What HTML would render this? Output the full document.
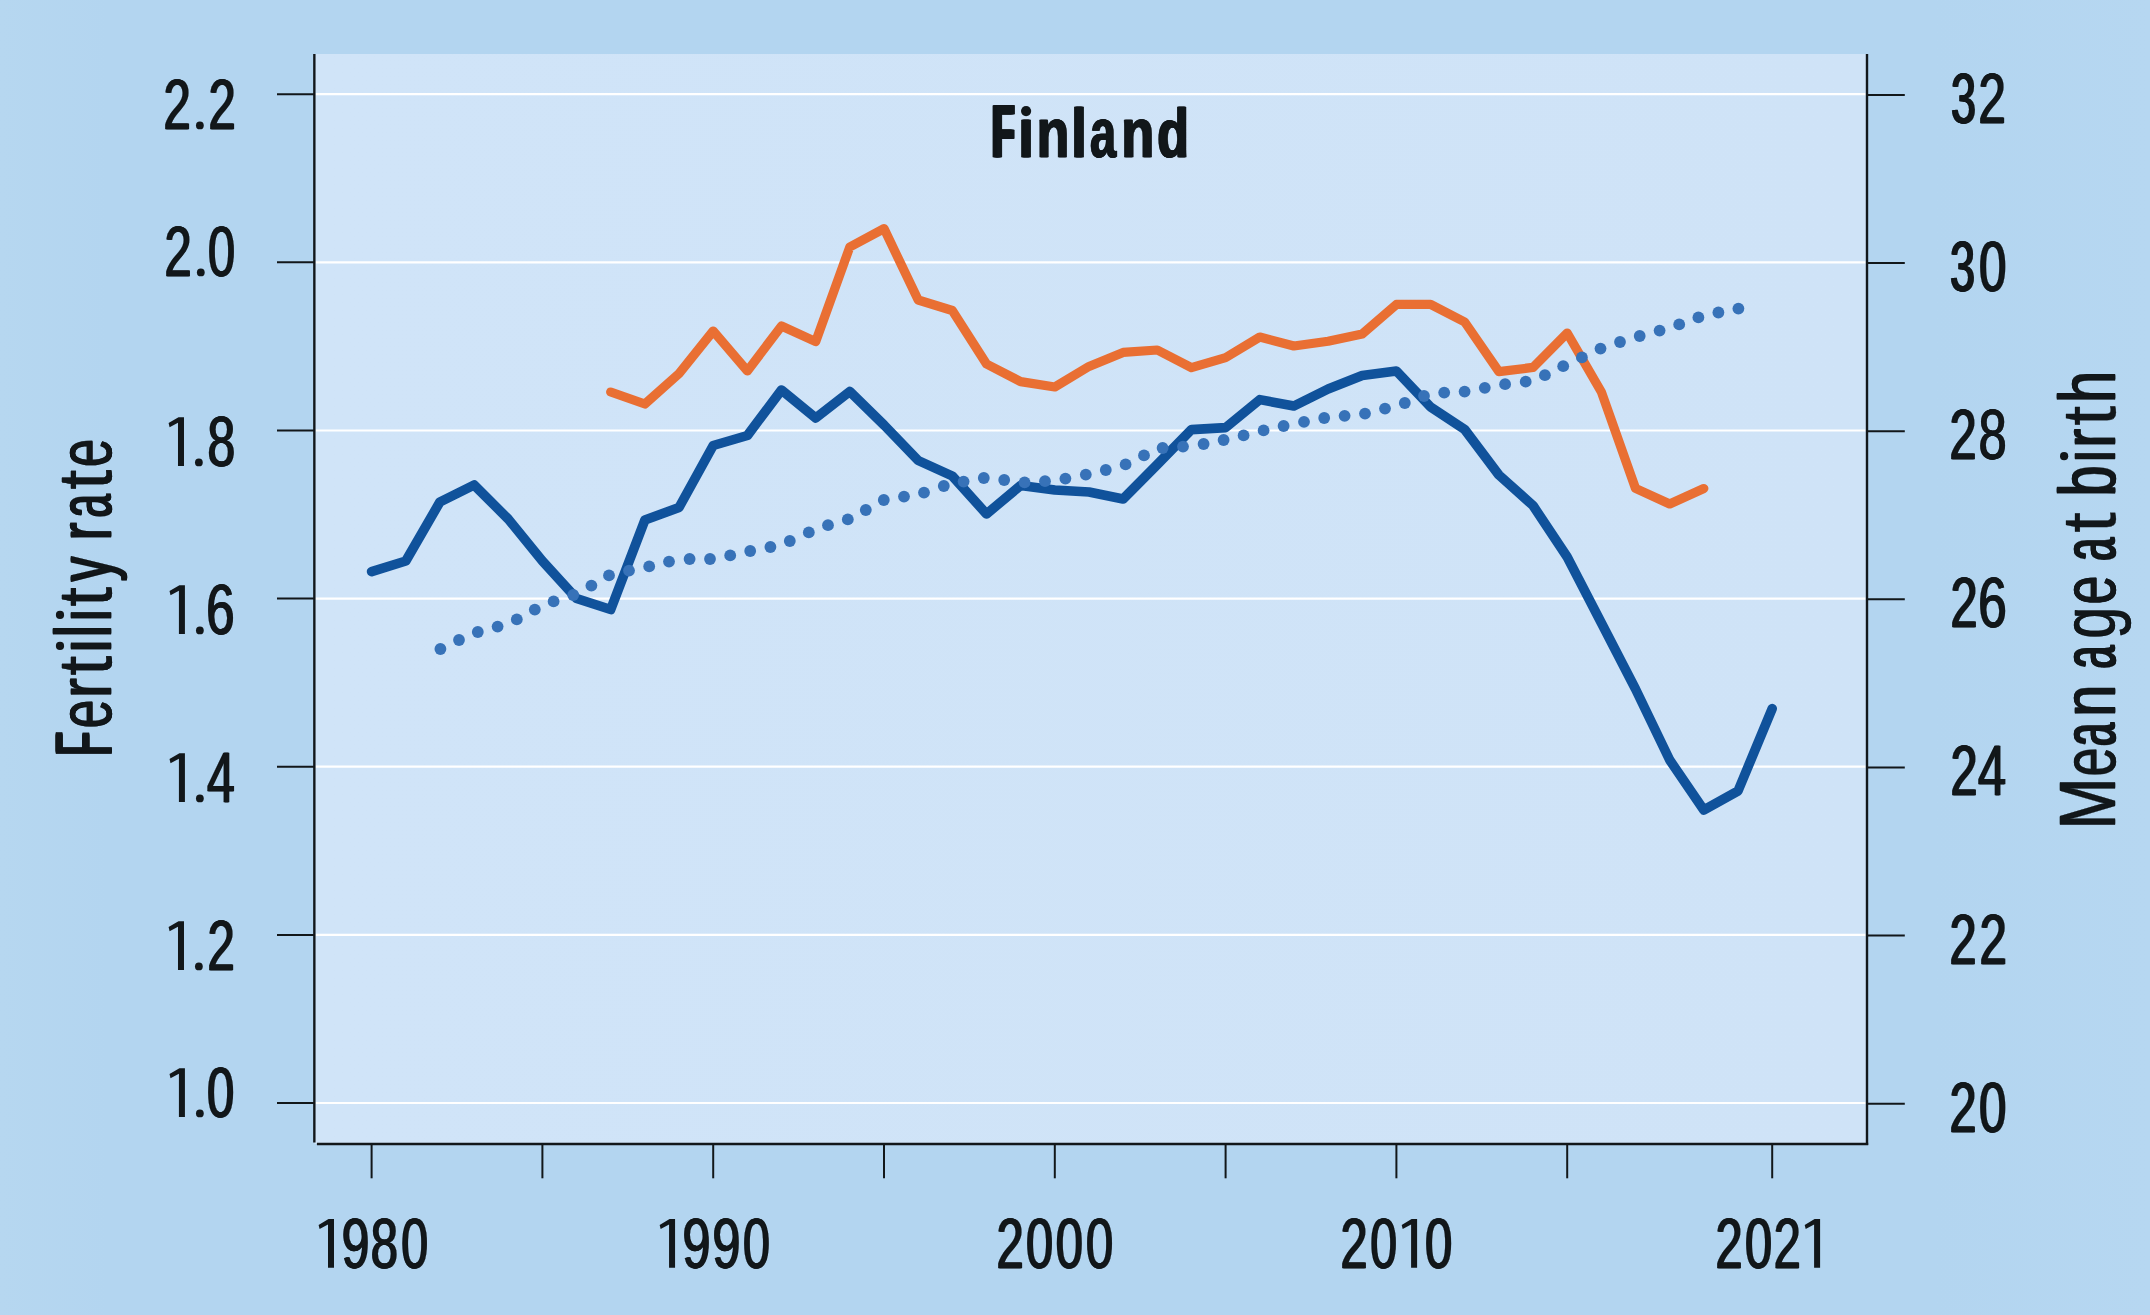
<!DOCTYPE html>
<html><head><meta charset="utf-8"><title>Finland</title>
<style>html,body{margin:0;padding:0;background:#b3d5f0;}svg{display:block}text{font-family:'Liberation Sans',sans-serif;fill:#12171a;stroke:#12171a;stroke-linejoin:round}</style>
</head><body>
<svg width="2150" height="1315" viewBox="0 0 2150 1315">
<defs>
<linearGradient id="bg" x1="0" y1="0" x2="1" y2="0">
<stop offset="0" stop-color="#b6d7f0"/><stop offset="0.05" stop-color="#b3d5f0"/><stop offset="0.9" stop-color="#b3d5f0"/><stop offset="1" stop-color="#b6d7f1"/>
</linearGradient>
<linearGradient id="pl" x1="0" y1="0" x2="1" y2="0">
<stop offset="0" stop-color="#d0e4f8"/><stop offset="1" stop-color="#cfe3f7"/>
</linearGradient>
</defs>
<rect x="0" y="0" width="2150" height="1315" fill="url(#bg)"/>
<rect x="314.5" y="54.0" width="1552.5" height="1090.0" fill="url(#pl)"/>

<g stroke="#ffffff" stroke-width="2.2" fill="none">
<line x1="315.5" y1="94.2" x2="1865.6" y2="94.2"/>
<line x1="315.5" y1="262.3" x2="1865.6" y2="262.3"/>
<line x1="315.5" y1="430.5" x2="1865.6" y2="430.5"/>
<line x1="315.5" y1="598.6" x2="1865.6" y2="598.6"/>
<line x1="315.5" y1="766.7" x2="1865.6" y2="766.7"/>
<line x1="315.5" y1="934.9" x2="1865.6" y2="934.9"/>
<line x1="315.5" y1="1103.0" x2="1865.6" y2="1103.0"/>
</g>
<g stroke="#12171a" stroke-width="2.0" fill="none">
<line x1="314.35" y1="54.0" x2="314.35" y2="1142.6" stroke-width="2.4"/>
<line x1="1867.0" y1="54.0" x2="1867.0" y2="1145.1" stroke-width="2.4"/>
<line x1="316.9" y1="1144.0" x2="1868.2" y2="1144.0" stroke-width="2.3"/>
<line x1="277" y1="94.2" x2="314.5" y2="94.2"/>
<line x1="1867.0" y1="94.9" x2="1904.8" y2="94.9"/>
<line x1="277" y1="262.3" x2="314.5" y2="262.3"/>
<line x1="1867.0" y1="263.0" x2="1904.8" y2="263.0"/>
<line x1="277" y1="430.5" x2="314.5" y2="430.5"/>
<line x1="1867.0" y1="431.2" x2="1904.8" y2="431.2"/>
<line x1="277" y1="598.6" x2="314.5" y2="598.6"/>
<line x1="1867.0" y1="599.3" x2="1904.8" y2="599.3"/>
<line x1="277" y1="766.7" x2="314.5" y2="766.7"/>
<line x1="1867.0" y1="767.4" x2="1904.8" y2="767.4"/>
<line x1="277" y1="934.9" x2="314.5" y2="934.9"/>
<line x1="1867.0" y1="935.6" x2="1904.8" y2="935.6"/>
<line x1="277" y1="1103.0" x2="314.5" y2="1103.0"/>
<line x1="1867.0" y1="1103.7" x2="1904.8" y2="1103.7"/>
<line x1="371.6" y1="1144.0" x2="371.6" y2="1178.3"/>
<line x1="542.4" y1="1144.0" x2="542.4" y2="1178.3"/>
<line x1="713.2" y1="1144.0" x2="713.2" y2="1178.3"/>
<line x1="884.0" y1="1144.0" x2="884.0" y2="1178.3"/>
<line x1="1054.8" y1="1144.0" x2="1054.8" y2="1178.3"/>
<line x1="1225.6" y1="1144.0" x2="1225.6" y2="1178.3"/>
<line x1="1396.4" y1="1144.0" x2="1396.4" y2="1178.3"/>
<line x1="1567.2" y1="1144.0" x2="1567.2" y2="1178.3"/>
<line x1="1772.2" y1="1144.0" x2="1772.2" y2="1178.3"/>
</g>
<polyline points="610.7,392.0 644.9,404.0 679.0,373.6 713.2,331.0 747.4,371.0 781.5,326.0 815.7,341.6 849.8,247.0 884.0,228.6 918.2,300.0 952.3,310.5 986.5,364.0 1020.6,381.6 1054.8,387.0 1089.0,366.4 1123.1,352.4 1157.3,350.0 1191.4,367.6 1225.6,357.6 1259.8,337.0 1293.9,346.0 1328.1,341.3 1362.2,334.0 1396.4,304.4 1430.6,304.4 1464.7,322.0 1498.9,371.6 1533.0,367.4 1567.2,333.0 1601.4,392.0 1635.5,488.4 1669.7,504.0 1703.8,488.5" fill="none" stroke="#e96f33" stroke-width="9.2" stroke-linecap="round" stroke-linejoin="round"/>
<polyline points="371.6,571.6 405.8,561.0 439.9,502.0 474.1,485.0 508.2,519.0 542.4,561.0 576.6,598.5 610.7,609.5 644.9,520.0 679.0,507.5 713.2,445.5 747.4,435.5 781.5,390.0 815.7,418.0 849.8,391.5 884.0,425.0 918.2,460.5 952.3,476.0 986.5,514.0 1020.6,485.5 1054.8,490.0 1089.0,492.0 1123.1,499.0 1157.3,464.5 1191.4,429.6 1225.6,427.6 1259.8,399.6 1293.9,406.0 1328.1,389.0 1362.2,375.5 1396.4,371.0 1430.6,407.0 1464.7,429.5 1498.9,475.0 1533.0,505.5 1567.2,557.0 1601.4,623.0 1635.5,689.0 1669.7,760.0 1703.8,810.0 1738.0,791.0 1772.2,708.6" fill="none" stroke="#10529b" stroke-width="9.6" stroke-linecap="round" stroke-linejoin="round"/>
<g fill="#3772b8">
<circle cx="440.4" cy="649" r="5.9"/>
<circle cx="459" cy="640" r="5.9"/>
<circle cx="477.8" cy="632" r="5.9"/>
<circle cx="497.6" cy="626.6" r="5.9"/>
<circle cx="516.8" cy="619.4" r="5.9"/>
<circle cx="534.8" cy="609.6" r="5.9"/>
<circle cx="553.6" cy="601.4" r="5.9"/>
<circle cx="573.2" cy="595" r="5.9"/>
<circle cx="591.4" cy="585.6" r="5.9"/>
<circle cx="609" cy="575.4" r="5.9"/>
<circle cx="629" cy="570.6" r="5.9"/>
<circle cx="649.2" cy="566.4" r="5.9"/>
<circle cx="669" cy="561.6" r="5.9"/>
<circle cx="689.6" cy="559" r="5.9"/>
<circle cx="710" cy="559" r="5.9"/>
<circle cx="730.2" cy="555.4" r="5.9"/>
<circle cx="750.2" cy="551" r="5.9"/>
<circle cx="770.4" cy="547" r="5.9"/>
<circle cx="789.8" cy="541" r="5.9"/>
<circle cx="808.8" cy="532.4" r="5.9"/>
<circle cx="828" cy="525.2" r="5.9"/>
<circle cx="847.8" cy="519.4" r="5.9"/>
<circle cx="865.8" cy="510" r="5.9"/>
<circle cx="883.8" cy="500" r="5.9"/>
<circle cx="904" cy="496.6" r="5.9"/>
<circle cx="924" cy="492.6" r="5.9"/>
<circle cx="943.8" cy="486" r="5.9"/>
<circle cx="963.6" cy="481.6" r="5.9"/>
<circle cx="983.8" cy="478" r="5.9"/>
<circle cx="1004.2" cy="480" r="5.9"/>
<circle cx="1024.6" cy="482.4" r="5.9"/>
<circle cx="1045" cy="481.2" r="5.9"/>
<circle cx="1065.4" cy="478.6" r="5.9"/>
<circle cx="1085.8" cy="474.6" r="5.9"/>
<circle cx="1105.8" cy="470" r="5.9"/>
<circle cx="1125.6" cy="464.4" r="5.9"/>
<circle cx="1144" cy="455.4" r="5.9"/>
<circle cx="1162.6" cy="448" r="5.9"/>
<circle cx="1183" cy="446.6" r="5.9"/>
<circle cx="1203.6" cy="444" r="5.9"/>
<circle cx="1223.6" cy="440" r="5.9"/>
<circle cx="1243.6" cy="435.4" r="5.9"/>
<circle cx="1263.6" cy="430.4" r="5.9"/>
<circle cx="1283.6" cy="426" r="5.9"/>
<circle cx="1304" cy="421.8" r="5.9"/>
<circle cx="1324.2" cy="418" r="5.9"/>
<circle cx="1344.6" cy="415.8" r="5.9"/>
<circle cx="1365" cy="413.6" r="5.9"/>
<circle cx="1385" cy="408.6" r="5.9"/>
<circle cx="1404.8" cy="403" r="5.9"/>
<circle cx="1424" cy="396" r="5.9"/>
<circle cx="1444.2" cy="392.6" r="5.9"/>
<circle cx="1464.6" cy="391.6" r="5.9"/>
<circle cx="1484.8" cy="387.8" r="5.9"/>
<circle cx="1505.1" cy="384.2" r="5.9"/>
<circle cx="1525.7" cy="381.7" r="5.9"/>
<circle cx="1544.9" cy="375.2" r="5.9"/>
<circle cx="1563.2" cy="366.2" r="5.9"/>
<circle cx="1581.9" cy="357.4" r="5.9"/>
<circle cx="1600.5" cy="348.6" r="5.9"/>
<circle cx="1620" cy="342" r="5.9"/>
<circle cx="1639.7" cy="336" r="5.9"/>
<circle cx="1659.6" cy="330.6" r="5.9"/>
<circle cx="1679.2" cy="324.4" r="5.9"/>
<circle cx="1698.4" cy="317.4" r="5.9"/>
<circle cx="1718.4" cy="312.5" r="5.9"/>
<circle cx="1738.4" cy="308.6" r="5.9"/>
</g>
<text transform="translate(162.76,128.9) scale(0.6991,1.0)" font-size="70.0" font-weight="normal" stroke-width="0.30">2</text>
<text transform="translate(163.44,128.9) scale(0.6991,1.0)" font-size="70.0" font-weight="normal" stroke-width="0.30">2</text>
<text transform="translate(164.13,128.9) scale(0.6991,1.0)" font-size="70.0" font-weight="normal" stroke-width="0.30">2</text>
<text transform="translate(207.76,128.9) scale(0.6991,1.0)" font-size="70.0" font-weight="normal" stroke-width="0.30">2</text>
<text transform="translate(208.44,128.9) scale(0.6991,1.0)" font-size="70.0" font-weight="normal" stroke-width="0.30">2</text>
<text transform="translate(209.13,128.9) scale(0.6991,1.0)" font-size="70.0" font-weight="normal" stroke-width="0.30">2</text>
<text transform="translate(163.75,275.9) scale(0.7029,1.0)" font-size="70.0" font-weight="normal" stroke-width="0.30">2</text>
<text transform="translate(164.42,275.9) scale(0.7029,1.0)" font-size="70.0" font-weight="normal" stroke-width="0.30">2</text>
<text transform="translate(165.09,275.9) scale(0.7029,1.0)" font-size="70.0" font-weight="normal" stroke-width="0.30">2</text>
<text transform="translate(207.21,275.9) scale(0.6992,1.0)" font-size="70.0" font-weight="normal" stroke-width="0.30">0</text>
<text transform="translate(207.89,275.9) scale(0.6992,1.0)" font-size="70.0" font-weight="normal" stroke-width="0.30">0</text>
<text transform="translate(208.58,275.9) scale(0.6992,1.0)" font-size="70.0" font-weight="normal" stroke-width="0.30">0</text>
<text transform="translate(206.80,465.9) scale(0.7177,1.0)" font-size="70.0" font-weight="normal" stroke-width="0.30">8</text>
<text transform="translate(207.43,465.9) scale(0.7177,1.0)" font-size="70.0" font-weight="normal" stroke-width="0.30">8</text>
<text transform="translate(208.06,465.9) scale(0.7177,1.0)" font-size="70.0" font-weight="normal" stroke-width="0.30">8</text>
<text transform="translate(205.61,633.9) scale(0.7319,1.0)" font-size="70.0" font-weight="normal" stroke-width="0.29">6</text>
<text transform="translate(206.19,633.9) scale(0.7319,1.0)" font-size="70.0" font-weight="normal" stroke-width="0.29">6</text>
<text transform="translate(206.77,633.9) scale(0.7319,1.0)" font-size="70.0" font-weight="normal" stroke-width="0.29">6</text>
<text transform="translate(206.37,801.9) scale(0.7179,1.0)" font-size="70.0" font-weight="normal" stroke-width="0.30">4</text>
<text transform="translate(206.99,801.9) scale(0.7179,1.0)" font-size="70.0" font-weight="normal" stroke-width="0.30">4</text>
<text transform="translate(207.62,801.9) scale(0.7179,1.0)" font-size="70.0" font-weight="normal" stroke-width="0.30">4</text>
<text transform="translate(206.63,969.9) scale(0.7068,1.0)" font-size="70.0" font-weight="normal" stroke-width="0.30">2</text>
<text transform="translate(207.29,969.9) scale(0.7068,1.0)" font-size="70.0" font-weight="normal" stroke-width="0.30">2</text>
<text transform="translate(207.95,969.9) scale(0.7068,1.0)" font-size="70.0" font-weight="normal" stroke-width="0.30">2</text>
<text transform="translate(206.31,1116.9) scale(0.6992,1.0)" font-size="70.0" font-weight="normal" stroke-width="0.30">0</text>
<text transform="translate(206.99,1116.9) scale(0.6992,1.0)" font-size="70.0" font-weight="normal" stroke-width="0.30">0</text>
<text transform="translate(207.68,1116.9) scale(0.6992,1.0)" font-size="70.0" font-weight="normal" stroke-width="0.30">0</text>
<text transform="translate(340.90,1267.8) scale(0.7136,1.0)" font-size="70.4" font-weight="normal" stroke-width="0.30">9</text>
<text transform="translate(341.52,1267.8) scale(0.7136,1.0)" font-size="70.4" font-weight="normal" stroke-width="0.30">9</text>
<text transform="translate(342.15,1267.8) scale(0.7136,1.0)" font-size="70.4" font-weight="normal" stroke-width="0.30">9</text>
<text transform="translate(369.94,1267.8) scale(0.7019,1.0)" font-size="70.4" font-weight="normal" stroke-width="0.30">8</text>
<text transform="translate(370.60,1267.8) scale(0.7019,1.0)" font-size="70.4" font-weight="normal" stroke-width="0.30">8</text>
<text transform="translate(371.27,1267.8) scale(0.7019,1.0)" font-size="70.4" font-weight="normal" stroke-width="0.30">8</text>
<text transform="translate(400.42,1267.8) scale(0.6922,1.0)" font-size="70.4" font-weight="normal" stroke-width="0.30">0</text>
<text transform="translate(401.11,1267.8) scale(0.6922,1.0)" font-size="70.4" font-weight="normal" stroke-width="0.30">0</text>
<text transform="translate(401.80,1267.8) scale(0.6922,1.0)" font-size="70.4" font-weight="normal" stroke-width="0.30">0</text>
<text transform="translate(681.83,1267.8) scale(0.7193,1.0)" font-size="70.4" font-weight="normal" stroke-width="0.29">9</text>
<text transform="translate(682.44,1267.8) scale(0.7193,1.0)" font-size="70.4" font-weight="normal" stroke-width="0.29">9</text>
<text transform="translate(683.04,1267.8) scale(0.7193,1.0)" font-size="70.4" font-weight="normal" stroke-width="0.29">9</text>
<text transform="translate(711.73,1267.8) scale(0.7193,1.0)" font-size="70.4" font-weight="normal" stroke-width="0.29">9</text>
<text transform="translate(712.34,1267.8) scale(0.7193,1.0)" font-size="70.4" font-weight="normal" stroke-width="0.29">9</text>
<text transform="translate(712.94,1267.8) scale(0.7193,1.0)" font-size="70.4" font-weight="normal" stroke-width="0.29">9</text>
<text transform="translate(742.22,1267.8) scale(0.6922,1.0)" font-size="70.4" font-weight="normal" stroke-width="0.30">0</text>
<text transform="translate(742.91,1267.8) scale(0.6922,1.0)" font-size="70.4" font-weight="normal" stroke-width="0.30">0</text>
<text transform="translate(743.60,1267.8) scale(0.6922,1.0)" font-size="70.4" font-weight="normal" stroke-width="0.30">0</text>
<text transform="translate(995.85,1267.8) scale(0.6956,1.0)" font-size="70.4" font-weight="normal" stroke-width="0.30">2</text>
<text transform="translate(996.53,1267.8) scale(0.6956,1.0)" font-size="70.4" font-weight="normal" stroke-width="0.30">2</text>
<text transform="translate(997.22,1267.8) scale(0.6956,1.0)" font-size="70.4" font-weight="normal" stroke-width="0.30">2</text>
<text transform="translate(1025.32,1267.8) scale(0.6922,1.0)" font-size="70.4" font-weight="normal" stroke-width="0.30">0</text>
<text transform="translate(1026.01,1267.8) scale(0.6922,1.0)" font-size="70.4" font-weight="normal" stroke-width="0.30">0</text>
<text transform="translate(1026.70,1267.8) scale(0.6922,1.0)" font-size="70.4" font-weight="normal" stroke-width="0.30">0</text>
<text transform="translate(1055.11,1267.8) scale(0.6941,1.0)" font-size="70.4" font-weight="normal" stroke-width="0.30">0</text>
<text transform="translate(1055.80,1267.8) scale(0.6941,1.0)" font-size="70.4" font-weight="normal" stroke-width="0.30">0</text>
<text transform="translate(1056.48,1267.8) scale(0.6941,1.0)" font-size="70.4" font-weight="normal" stroke-width="0.30">0</text>
<text transform="translate(1085.20,1267.8) scale(0.6995,1.0)" font-size="70.4" font-weight="normal" stroke-width="0.30">0</text>
<text transform="translate(1085.87,1267.8) scale(0.6995,1.0)" font-size="70.4" font-weight="normal" stroke-width="0.30">0</text>
<text transform="translate(1086.53,1267.8) scale(0.6995,1.0)" font-size="70.4" font-weight="normal" stroke-width="0.30">0</text>
<text transform="translate(1339.87,1267.8) scale(0.6917,1.0)" font-size="70.4" font-weight="normal" stroke-width="0.30">2</text>
<text transform="translate(1340.56,1267.8) scale(0.6917,1.0)" font-size="70.4" font-weight="normal" stroke-width="0.30">2</text>
<text transform="translate(1341.25,1267.8) scale(0.6917,1.0)" font-size="70.4" font-weight="normal" stroke-width="0.30">2</text>
<text transform="translate(1369.43,1267.8) scale(0.6886,1.0)" font-size="70.4" font-weight="normal" stroke-width="0.30">0</text>
<text transform="translate(1370.13,1267.8) scale(0.6886,1.0)" font-size="70.4" font-weight="normal" stroke-width="0.30">0</text>
<text transform="translate(1370.83,1267.8) scale(0.6886,1.0)" font-size="70.4" font-weight="normal" stroke-width="0.30">0</text>
<text transform="translate(1424.31,1267.8) scale(0.6959,1.0)" font-size="70.4" font-weight="normal" stroke-width="0.30">0</text>
<text transform="translate(1424.99,1267.8) scale(0.6959,1.0)" font-size="70.4" font-weight="normal" stroke-width="0.30">0</text>
<text transform="translate(1425.67,1267.8) scale(0.6959,1.0)" font-size="70.4" font-weight="normal" stroke-width="0.30">0</text>
<text transform="translate(1714.87,1267.8) scale(0.6917,1.0)" font-size="70.4" font-weight="normal" stroke-width="0.30">2</text>
<text transform="translate(1715.56,1267.8) scale(0.6917,1.0)" font-size="70.4" font-weight="normal" stroke-width="0.30">2</text>
<text transform="translate(1716.25,1267.8) scale(0.6917,1.0)" font-size="70.4" font-weight="normal" stroke-width="0.30">2</text>
<text transform="translate(1744.32,1267.8) scale(0.6922,1.0)" font-size="70.4" font-weight="normal" stroke-width="0.30">0</text>
<text transform="translate(1745.01,1267.8) scale(0.6922,1.0)" font-size="70.4" font-weight="normal" stroke-width="0.30">0</text>
<text transform="translate(1745.70,1267.8) scale(0.6922,1.0)" font-size="70.4" font-weight="normal" stroke-width="0.30">0</text>
<text transform="translate(1772.95,1267.8) scale(0.6956,1.0)" font-size="70.4" font-weight="normal" stroke-width="0.30">2</text>
<text transform="translate(1773.63,1267.8) scale(0.6956,1.0)" font-size="70.4" font-weight="normal" stroke-width="0.30">2</text>
<text transform="translate(1774.32,1267.8) scale(0.6956,1.0)" font-size="70.4" font-weight="normal" stroke-width="0.30">2</text>
<text transform="translate(1950.20,122.9) scale(0.6377,1.0)" font-size="70.0" font-weight="normal" stroke-width="0.31">3</text>
<text transform="translate(1950.78,122.9) scale(0.6377,1.0)" font-size="70.0" font-weight="normal" stroke-width="0.31">3</text>
<text transform="translate(1951.36,122.9) scale(0.6377,1.0)" font-size="70.0" font-weight="normal" stroke-width="0.31">3</text>
<text transform="translate(1951.95,122.9) scale(0.6377,1.0)" font-size="70.0" font-weight="normal" stroke-width="0.31">3</text>
<text transform="translate(1977.63,122.9) scale(0.7068,1.0)" font-size="70.0" font-weight="normal" stroke-width="0.30">2</text>
<text transform="translate(1978.29,122.9) scale(0.7068,1.0)" font-size="70.0" font-weight="normal" stroke-width="0.30">2</text>
<text transform="translate(1978.95,122.9) scale(0.7068,1.0)" font-size="70.0" font-weight="normal" stroke-width="0.30">2</text>
<text transform="translate(1949.25,291.0) scale(0.6377,1.0)" font-size="70.0" font-weight="normal" stroke-width="0.31">3</text>
<text transform="translate(1949.83,291.0) scale(0.6377,1.0)" font-size="70.0" font-weight="normal" stroke-width="0.31">3</text>
<text transform="translate(1950.41,291.0) scale(0.6377,1.0)" font-size="70.0" font-weight="normal" stroke-width="0.31">3</text>
<text transform="translate(1951.00,291.0) scale(0.6377,1.0)" font-size="70.0" font-weight="normal" stroke-width="0.31">3</text>
<text transform="translate(1978.30,291.0) scale(0.7028,1.0)" font-size="70.0" font-weight="normal" stroke-width="0.30">0</text>
<text transform="translate(1978.97,291.0) scale(0.7028,1.0)" font-size="70.0" font-weight="normal" stroke-width="0.30">0</text>
<text transform="translate(1979.64,291.0) scale(0.7028,1.0)" font-size="70.0" font-weight="normal" stroke-width="0.30">0</text>
<text transform="translate(1948.77,458.9) scale(0.6952,1.0)" font-size="70.0" font-weight="normal" stroke-width="0.30">2</text>
<text transform="translate(1949.47,458.9) scale(0.6952,1.0)" font-size="70.0" font-weight="normal" stroke-width="0.30">2</text>
<text transform="translate(1950.17,458.9) scale(0.6952,1.0)" font-size="70.0" font-weight="normal" stroke-width="0.30">2</text>
<text transform="translate(1977.88,458.9) scale(0.7252,1.0)" font-size="70.0" font-weight="normal" stroke-width="0.29">8</text>
<text transform="translate(1978.48,458.9) scale(0.7252,1.0)" font-size="70.0" font-weight="normal" stroke-width="0.29">8</text>
<text transform="translate(1979.09,458.9) scale(0.7252,1.0)" font-size="70.0" font-weight="normal" stroke-width="0.29">8</text>
<text transform="translate(1949.87,626.9) scale(0.6952,1.0)" font-size="70.0" font-weight="normal" stroke-width="0.30">2</text>
<text transform="translate(1950.57,626.9) scale(0.6952,1.0)" font-size="70.0" font-weight="normal" stroke-width="0.30">2</text>
<text transform="translate(1951.27,626.9) scale(0.6952,1.0)" font-size="70.0" font-weight="normal" stroke-width="0.30">2</text>
<text transform="translate(1977.59,626.9) scale(0.7357,1.0)" font-size="70.0" font-weight="normal" stroke-width="0.29">6</text>
<text transform="translate(1978.17,626.9) scale(0.7357,1.0)" font-size="70.0" font-weight="normal" stroke-width="0.29">6</text>
<text transform="translate(1978.74,626.9) scale(0.7357,1.0)" font-size="70.0" font-weight="normal" stroke-width="0.29">6</text>
<text transform="translate(1949.87,794.9) scale(0.6952,1.0)" font-size="70.0" font-weight="normal" stroke-width="0.30">2</text>
<text transform="translate(1950.57,794.9) scale(0.6952,1.0)" font-size="70.0" font-weight="normal" stroke-width="0.30">2</text>
<text transform="translate(1951.27,794.9) scale(0.6952,1.0)" font-size="70.0" font-weight="normal" stroke-width="0.30">2</text>
<text transform="translate(1977.25,794.9) scale(0.7247,1.0)" font-size="70.0" font-weight="normal" stroke-width="0.29">4</text>
<text transform="translate(1977.86,794.9) scale(0.7247,1.0)" font-size="70.0" font-weight="normal" stroke-width="0.29">4</text>
<text transform="translate(1978.46,794.9) scale(0.7247,1.0)" font-size="70.0" font-weight="normal" stroke-width="0.29">4</text>
<text transform="translate(1948.77,963.9) scale(0.6952,1.0)" font-size="70.0" font-weight="normal" stroke-width="0.30">2</text>
<text transform="translate(1949.47,963.9) scale(0.6952,1.0)" font-size="70.0" font-weight="normal" stroke-width="0.30">2</text>
<text transform="translate(1950.17,963.9) scale(0.6952,1.0)" font-size="70.0" font-weight="normal" stroke-width="0.30">2</text>
<text transform="translate(1978.85,963.9) scale(0.7029,1.0)" font-size="70.0" font-weight="normal" stroke-width="0.30">2</text>
<text transform="translate(1979.52,963.9) scale(0.7029,1.0)" font-size="70.0" font-weight="normal" stroke-width="0.30">2</text>
<text transform="translate(1980.19,963.9) scale(0.7029,1.0)" font-size="70.0" font-weight="normal" stroke-width="0.30">2</text>
<text transform="translate(1948.77,1131.9) scale(0.6952,1.0)" font-size="70.0" font-weight="normal" stroke-width="0.30">2</text>
<text transform="translate(1949.47,1131.9) scale(0.6952,1.0)" font-size="70.0" font-weight="normal" stroke-width="0.30">2</text>
<text transform="translate(1950.17,1131.9) scale(0.6952,1.0)" font-size="70.0" font-weight="normal" stroke-width="0.30">2</text>
<text transform="translate(1978.30,1131.9) scale(0.7028,1.0)" font-size="70.0" font-weight="normal" stroke-width="0.30">0</text>
<text transform="translate(1978.97,1131.9) scale(0.7028,1.0)" font-size="70.0" font-weight="normal" stroke-width="0.30">0</text>
<text transform="translate(1979.64,1131.9) scale(0.7028,1.0)" font-size="70.0" font-weight="normal" stroke-width="0.30">0</text>
<text transform="translate(990.54,156.8) scale(0.5034,1.05)" font-size="70.0" font-weight="bold" stroke-width="0.70">F</text>
<text transform="translate(991.11,156.8) scale(0.5034,1.05)" font-size="70.0" font-weight="bold" stroke-width="0.70">F</text>
<text transform="translate(991.67,156.8) scale(0.5034,1.05)" font-size="70.0" font-weight="bold" stroke-width="0.70">F</text>
<text transform="translate(992.24,156.8) scale(0.5034,1.05)" font-size="70.0" font-weight="bold" stroke-width="0.70">F</text>
<text transform="translate(992.81,156.8) scale(0.5034,1.05)" font-size="70.0" font-weight="bold" stroke-width="0.70">F</text>
<text transform="translate(993.38,156.8) scale(0.5034,1.05)" font-size="70.0" font-weight="bold" stroke-width="0.70">F</text>
<text transform="translate(993.94,156.8) scale(0.5034,1.05)" font-size="70.0" font-weight="bold" stroke-width="0.70">F</text>
<text transform="translate(994.51,156.8) scale(0.5034,1.05)" font-size="70.0" font-weight="bold" stroke-width="0.70">F</text>
<text transform="translate(1017.78,156.8) scale(0.7200,1.0)" font-size="70.0" font-weight="bold" stroke-width="0.59">&#305;</text>
<text transform="translate(1018.43,156.8) scale(0.7200,1.0)" font-size="70.0" font-weight="bold" stroke-width="0.59">&#305;</text>
<text transform="translate(1019.08,156.8) scale(0.7200,1.0)" font-size="70.0" font-weight="bold" stroke-width="0.59">&#305;</text>
<text transform="translate(1019.73,156.8) scale(0.7200,1.0)" font-size="70.0" font-weight="bold" stroke-width="0.59">&#305;</text>
<text transform="translate(1020.37,156.8) scale(0.7200,1.0)" font-size="70.0" font-weight="bold" stroke-width="0.59">&#305;</text>
<text transform="translate(1035.90,156.8) scale(0.7651,1.0)" font-size="70.0" font-weight="bold" stroke-width="0.57">n</text>
<text transform="translate(1036.63,156.8) scale(0.7651,1.0)" font-size="70.0" font-weight="bold" stroke-width="0.57">n</text>
<text transform="translate(1037.36,156.8) scale(0.7651,1.0)" font-size="70.0" font-weight="bold" stroke-width="0.57">n</text>
<text transform="translate(1070.73,156.8) scale(0.7200,0.99)" font-size="70.0" font-weight="bold" stroke-width="0.59">l</text>
<text transform="translate(1071.37,156.8) scale(0.7200,0.99)" font-size="70.0" font-weight="bold" stroke-width="0.59">l</text>
<text transform="translate(1072.02,156.8) scale(0.7200,0.99)" font-size="70.0" font-weight="bold" stroke-width="0.59">l</text>
<text transform="translate(1072.67,156.8) scale(0.7200,0.99)" font-size="70.0" font-weight="bold" stroke-width="0.59">l</text>
<text transform="translate(1073.32,156.8) scale(0.7200,0.99)" font-size="70.0" font-weight="bold" stroke-width="0.59">l</text>
<text transform="translate(1089.44,156.8) scale(0.6720,1.0)" font-size="70.0" font-weight="bold" stroke-width="0.61">a</text>
<text transform="translate(1089.96,156.8) scale(0.6720,1.0)" font-size="70.0" font-weight="bold" stroke-width="0.61">a</text>
<text transform="translate(1090.49,156.8) scale(0.6720,1.0)" font-size="70.0" font-weight="bold" stroke-width="0.61">a</text>
<text transform="translate(1120.56,156.8) scale(0.7734,1.0)" font-size="70.0" font-weight="bold" stroke-width="0.57">n</text>
<text transform="translate(1121.25,156.8) scale(0.7734,1.0)" font-size="70.0" font-weight="bold" stroke-width="0.57">n</text>
<text transform="translate(1121.94,156.8) scale(0.7734,1.0)" font-size="70.0" font-weight="bold" stroke-width="0.57">n</text>
<text transform="translate(1156.43,156.8) scale(0.7339,0.99)" font-size="70.0" font-weight="bold" stroke-width="0.58">d</text>
<text transform="translate(1157.01,156.8) scale(0.7339,0.99)" font-size="70.0" font-weight="bold" stroke-width="0.58">d</text>
<text transform="translate(1157.60,156.8) scale(0.7339,0.99)" font-size="70.0" font-weight="bold" stroke-width="0.58">d</text>
<text transform="translate(1158.19,156.8) scale(0.7339,0.99)" font-size="70.0" font-weight="bold" stroke-width="0.58">d</text>
<text transform="translate(110.9,756.74) rotate(-90) scale(0.4707,1.0)" font-size="80.0" font-weight="normal" stroke-width="0.44">F</text>
<text transform="translate(110.9,756.14) rotate(-90) scale(0.4707,1.0)" font-size="80.0" font-weight="normal" stroke-width="0.44">F</text>
<text transform="translate(110.9,755.54) rotate(-90) scale(0.4707,1.0)" font-size="80.0" font-weight="normal" stroke-width="0.44">F</text>
<text transform="translate(110.9,754.94) rotate(-90) scale(0.4707,1.0)" font-size="80.0" font-weight="normal" stroke-width="0.44">F</text>
<text transform="translate(110.9,754.34) rotate(-90) scale(0.4707,1.0)" font-size="80.0" font-weight="normal" stroke-width="0.44">F</text>
<text transform="translate(110.9,753.74) rotate(-90) scale(0.4707,1.0)" font-size="80.0" font-weight="normal" stroke-width="0.44">F</text>
<text transform="translate(110.9,728.65) rotate(-90) scale(0.6387,0.945)" font-size="80.0" font-weight="normal" stroke-width="0.38">e</text>
<text transform="translate(110.9,728.16) rotate(-90) scale(0.6387,0.945)" font-size="80.0" font-weight="normal" stroke-width="0.38">e</text>
<text transform="translate(110.9,727.68) rotate(-90) scale(0.6387,0.945)" font-size="80.0" font-weight="normal" stroke-width="0.38">e</text>
<text transform="translate(110.9,698.45) rotate(-90) scale(0.7375,0.945)" font-size="80.0" font-weight="normal" stroke-width="0.35">r</text>
<text transform="translate(110.9,697.88) rotate(-90) scale(0.7375,0.945)" font-size="80.0" font-weight="normal" stroke-width="0.35">r</text>
<text transform="translate(110.9,697.32) rotate(-90) scale(0.7375,0.945)" font-size="80.0" font-weight="normal" stroke-width="0.35">r</text>
<text transform="translate(110.9,675.55) rotate(-90) scale(0.8854,0.945)" font-size="80.0" font-weight="normal" stroke-width="0.32">t</text>
<text transform="translate(110.9,675.45) rotate(-90) scale(0.8854,0.945)" font-size="80.0" font-weight="normal" stroke-width="0.32">t</text>
<text transform="translate(110.9,654.71) rotate(-90) scale(0.7200,0.945)" font-size="80.0" font-weight="normal" stroke-width="0.35">&#305;</text>
<text transform="translate(110.9,654.03) rotate(-90) scale(0.7200,0.945)" font-size="80.0" font-weight="normal" stroke-width="0.35">&#305;</text>
<text transform="translate(110.9,653.36) rotate(-90) scale(0.7200,0.945)" font-size="80.0" font-weight="normal" stroke-width="0.35">&#305;</text>
<text transform="translate(110.9,638.34) rotate(-90) scale(0.7200,1.0)" font-size="80.0" font-weight="normal" stroke-width="0.35">l</text>
<text transform="translate(110.9,637.64) rotate(-90) scale(0.7200,1.0)" font-size="80.0" font-weight="normal" stroke-width="0.35">l</text>
<text transform="translate(110.9,636.94) rotate(-90) scale(0.7200,1.0)" font-size="80.0" font-weight="normal" stroke-width="0.35">l</text>
<text transform="translate(110.9,623.71) rotate(-90) scale(0.7200,0.945)" font-size="80.0" font-weight="normal" stroke-width="0.35">&#305;</text>
<text transform="translate(110.9,623.18) rotate(-90) scale(0.7200,0.945)" font-size="80.0" font-weight="normal" stroke-width="0.35">&#305;</text>
<text transform="translate(110.9,622.66) rotate(-90) scale(0.7200,0.945)" font-size="80.0" font-weight="normal" stroke-width="0.35">&#305;</text>
<text transform="translate(110.9,606.54) rotate(-90) scale(0.8816,0.945)" font-size="80.0" font-weight="normal" stroke-width="0.32">t</text>
<text transform="translate(110.9,606.42) rotate(-90) scale(0.8816,0.945)" font-size="80.0" font-weight="normal" stroke-width="0.32">t</text>
<text transform="translate(110.9,582.10) rotate(-90) scale(0.6022,0.945)" font-size="80.0" font-weight="normal" stroke-width="0.39">y</text>
<text transform="translate(110.9,581.41) rotate(-90) scale(0.6022,0.945)" font-size="80.0" font-weight="normal" stroke-width="0.39">y</text>
<text transform="translate(110.9,580.71) rotate(-90) scale(0.6022,0.945)" font-size="80.0" font-weight="normal" stroke-width="0.39">y</text>
<text transform="translate(110.9,580.02) rotate(-90) scale(0.6022,0.945)" font-size="80.0" font-weight="normal" stroke-width="0.39">y</text>
<text transform="translate(110.9,541.11) rotate(-90) scale(0.6641,0.945)" font-size="80.0" font-weight="normal" stroke-width="0.37">r</text>
<text transform="translate(110.9,540.56) rotate(-90) scale(0.6641,0.945)" font-size="80.0" font-weight="normal" stroke-width="0.37">r</text>
<text transform="translate(110.9,540.01) rotate(-90) scale(0.6641,0.945)" font-size="80.0" font-weight="normal" stroke-width="0.37">r</text>
<text transform="translate(110.9,539.46) rotate(-90) scale(0.6641,0.945)" font-size="80.0" font-weight="normal" stroke-width="0.37">r</text>
<text transform="translate(110.9,518.33) rotate(-90) scale(0.5186,0.945)" font-size="80.0" font-weight="normal" stroke-width="0.42">a</text>
<text transform="translate(110.9,517.73) rotate(-90) scale(0.5186,0.945)" font-size="80.0" font-weight="normal" stroke-width="0.42">a</text>
<text transform="translate(110.9,517.13) rotate(-90) scale(0.5186,0.945)" font-size="80.0" font-weight="normal" stroke-width="0.42">a</text>
<text transform="translate(110.9,516.52) rotate(-90) scale(0.5186,0.945)" font-size="80.0" font-weight="normal" stroke-width="0.42">a</text>
<text transform="translate(110.9,489.45) rotate(-90) scale(0.8891,0.945)" font-size="80.0" font-weight="normal" stroke-width="0.32">t</text>
<text transform="translate(110.9,489.38) rotate(-90) scale(0.8891,0.945)" font-size="80.0" font-weight="normal" stroke-width="0.32">t</text>
<text transform="translate(110.9,467.42) rotate(-90) scale(0.6322,0.945)" font-size="80.0" font-weight="normal" stroke-width="0.38">e</text>
<text transform="translate(110.9,466.92) rotate(-90) scale(0.6322,0.945)" font-size="80.0" font-weight="normal" stroke-width="0.38">e</text>
<text transform="translate(110.9,466.41) rotate(-90) scale(0.6322,0.945)" font-size="80.0" font-weight="normal" stroke-width="0.38">e</text>
<text transform="translate(2115.2,829.63) rotate(-90) scale(0.7741,1.0)" font-size="80.0" font-weight="normal" stroke-width="0.34">M</text>
<text transform="translate(2115.2,828.76) rotate(-90) scale(0.7741,1.0)" font-size="80.0" font-weight="normal" stroke-width="0.34">M</text>
<text transform="translate(2115.2,776.79) rotate(-90) scale(0.6502,0.945)" font-size="80.0" font-weight="normal" stroke-width="0.37">e</text>
<text transform="translate(2115.2,775.90) rotate(-90) scale(0.6502,0.945)" font-size="80.0" font-weight="normal" stroke-width="0.37">e</text>
<text transform="translate(2115.2,746.92) rotate(-90) scale(0.5157,0.945)" font-size="80.0" font-weight="normal" stroke-width="0.42">a</text>
<text transform="translate(2115.2,746.31) rotate(-90) scale(0.5157,0.945)" font-size="80.0" font-weight="normal" stroke-width="0.42">a</text>
<text transform="translate(2115.2,745.70) rotate(-90) scale(0.5157,0.945)" font-size="80.0" font-weight="normal" stroke-width="0.42">a</text>
<text transform="translate(2115.2,745.09) rotate(-90) scale(0.5157,0.945)" font-size="80.0" font-weight="normal" stroke-width="0.42">a</text>
<text transform="translate(2115.2,717.30) rotate(-90) scale(0.7137,0.945)" font-size="80.0" font-weight="normal" stroke-width="0.36">n</text>
<text transform="translate(2115.2,716.64) rotate(-90) scale(0.7137,0.945)" font-size="80.0" font-weight="normal" stroke-width="0.36">n</text>
<text transform="translate(2115.2,715.99) rotate(-90) scale(0.7137,0.945)" font-size="80.0" font-weight="normal" stroke-width="0.36">n</text>
<text transform="translate(2115.2,669.52) rotate(-90) scale(0.5157,0.945)" font-size="80.0" font-weight="normal" stroke-width="0.42">a</text>
<text transform="translate(2115.2,668.91) rotate(-90) scale(0.5157,0.945)" font-size="80.0" font-weight="normal" stroke-width="0.42">a</text>
<text transform="translate(2115.2,668.30) rotate(-90) scale(0.5157,0.945)" font-size="80.0" font-weight="normal" stroke-width="0.42">a</text>
<text transform="translate(2115.2,667.69) rotate(-90) scale(0.5157,0.945)" font-size="80.0" font-weight="normal" stroke-width="0.42">a</text>
<text transform="translate(2115.2,638.89) rotate(-90) scale(0.7194,0.945)" font-size="80.0" font-weight="normal" stroke-width="0.35">g</text>
<text transform="translate(2115.2,638.49) rotate(-90) scale(0.7194,0.945)" font-size="80.0" font-weight="normal" stroke-width="0.35">g</text>
<text transform="translate(2115.2,604.87) rotate(-90) scale(0.6453,0.945)" font-size="80.0" font-weight="normal" stroke-width="0.37">e</text>
<text transform="translate(2115.2,604.41) rotate(-90) scale(0.6453,0.945)" font-size="80.0" font-weight="normal" stroke-width="0.37">e</text>
<text transform="translate(2115.2,603.95) rotate(-90) scale(0.6453,0.945)" font-size="80.0" font-weight="normal" stroke-width="0.37">e</text>
<text transform="translate(2115.2,561.71) rotate(-90) scale(0.5128,0.945)" font-size="80.0" font-weight="normal" stroke-width="0.42">a</text>
<text transform="translate(2115.2,561.10) rotate(-90) scale(0.5128,0.945)" font-size="80.0" font-weight="normal" stroke-width="0.42">a</text>
<text transform="translate(2115.2,560.48) rotate(-90) scale(0.5128,0.945)" font-size="80.0" font-weight="normal" stroke-width="0.42">a</text>
<text transform="translate(2115.2,559.86) rotate(-90) scale(0.5128,0.945)" font-size="80.0" font-weight="normal" stroke-width="0.42">a</text>
<text transform="translate(2115.2,532.85) rotate(-90) scale(0.9270,0.945)" font-size="80.0" font-weight="normal" stroke-width="0.31">t</text>
<text transform="translate(2115.2,496.98) rotate(-90) scale(0.6870,1.0)" font-size="80.0" font-weight="normal" stroke-width="0.36">b</text>
<text transform="translate(2115.2,496.24) rotate(-90) scale(0.6870,1.0)" font-size="80.0" font-weight="normal" stroke-width="0.36">b</text>
<text transform="translate(2115.2,495.49) rotate(-90) scale(0.6870,1.0)" font-size="80.0" font-weight="normal" stroke-width="0.36">b</text>
<text transform="translate(2115.2,464.61) rotate(-90) scale(0.7200,0.945)" font-size="80.0" font-weight="normal" stroke-width="0.35">&#305;</text>
<text transform="translate(2115.2,463.86) rotate(-90) scale(0.7200,0.945)" font-size="80.0" font-weight="normal" stroke-width="0.35">&#305;</text>
<text transform="translate(2115.2,448.03) rotate(-90) scale(0.6873,0.945)" font-size="80.0" font-weight="normal" stroke-width="0.36">r</text>
<text transform="translate(2115.2,447.29) rotate(-90) scale(0.6873,0.945)" font-size="80.0" font-weight="normal" stroke-width="0.36">r</text>
<text transform="translate(2115.2,446.55) rotate(-90) scale(0.6873,0.945)" font-size="80.0" font-weight="normal" stroke-width="0.36">r</text>
<text transform="translate(2115.2,425.65) rotate(-90) scale(0.8966,0.945)" font-size="80.0" font-weight="normal" stroke-width="0.32">t</text>
<text transform="translate(2115.2,403.40) rotate(-90) scale(0.7106,1.0)" font-size="80.0" font-weight="normal" stroke-width="0.36">h</text>
<text transform="translate(2115.2,402.73) rotate(-90) scale(0.7106,1.0)" font-size="80.0" font-weight="normal" stroke-width="0.36">h</text>
<text transform="translate(2115.2,402.07) rotate(-90) scale(0.7106,1.0)" font-size="80.0" font-weight="normal" stroke-width="0.36">h</text>
<g fill="#12171a">
<path transform="translate(183.99,465.9)" d="M0,0 L-6,0 L-6,-43.2 L-14.4,-38.7 L-15.4,-42.9 L-5.5,-48.7 L0,-48.7 Z"/>
<path transform="translate(184.92,633.9)" d="M0,0 L-6,0 L-6,-43.2 L-14.4,-38.7 L-15.4,-42.9 L-5.5,-48.7 L0,-48.7 Z"/>
<path transform="translate(184.92,801.9)" d="M0,0 L-6,0 L-6,-43.2 L-14.4,-38.7 L-15.4,-42.9 L-5.5,-48.7 L0,-48.7 Z"/>
<path transform="translate(183.99,969.9)" d="M0,0 L-6,0 L-6,-43.2 L-14.4,-38.7 L-15.4,-42.9 L-5.5,-48.7 L0,-48.7 Z"/>
<path transform="translate(184.92,1116.9)" d="M0,0 L-6,0 L-6,-43.2 L-14.4,-38.7 L-15.4,-42.9 L-5.5,-48.7 L0,-48.7 Z"/>
<path transform="translate(334.0,1267.8)" d="M0,0 L-6,0 L-6,-43.2 L-14.4,-38.7 L-15.4,-42.9 L-5.5,-48.7 L0,-48.7 Z"/>
<path transform="translate(675.06,1267.8)" d="M0,0 L-6,0 L-6,-43.2 L-14.4,-38.7 L-15.4,-42.9 L-5.5,-48.7 L0,-48.7 Z"/>
<path transform="translate(1417.1,1267.8)" d="M0,0 L-6,0 L-6,-43.2 L-14.4,-38.7 L-15.4,-42.9 L-5.5,-48.7 L0,-48.7 Z"/>
<path transform="translate(1820.1,1267.8)" d="M0,0 L-6,0 L-6,-43.2 L-14.4,-38.7 L-15.4,-42.9 L-5.5,-48.7 L0,-48.7 Z"/>
<circle cx="199.87" cy="125.45" r="3.9"/>
<circle cx="200.8" cy="272.45" r="3.9"/>
<circle cx="198.88" cy="462.45" r="3.9"/>
<circle cx="199.87" cy="630.45" r="3.9"/>
<circle cx="199.87" cy="798.45" r="3.9"/>
<circle cx="198.88" cy="966.45" r="3.9"/>
<circle cx="199.87" cy="1113.45" r="3.9"/>
<circle cx="60.0" cy="645.90" r="4.1"/>
<circle cx="60.0" cy="614.90" r="4.1"/>
<circle cx="2064.1" cy="456.20" r="4.1"/>
<circle cx="1026.1" cy="111.10" r="5.1"/>
</g>
</svg></body></html>
